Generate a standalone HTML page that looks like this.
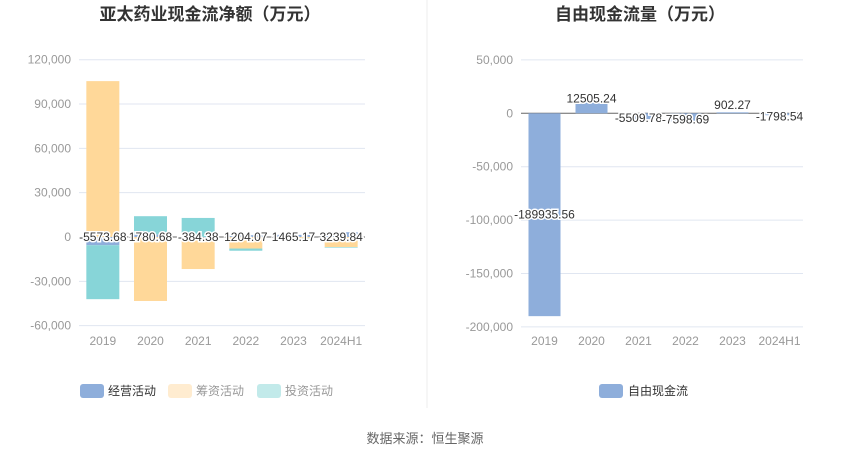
<!DOCTYPE html>
<html><head><meta charset="utf-8">
<style>
body{margin:0;background:#fff;font-family:"Liberation Sans","Noto Sans CJK SC",sans-serif;}
svg text{font-family:"Liberation Sans","Noto Sans CJK SC",sans-serif;}
</style></head>
<body>
<svg id="c" width="850" height="459" xmlns="http://www.w3.org/2000/svg">
<text x="210" y="20" text-anchor="middle" font-size="17" font-weight="bold" fill="#333">亚太药业现金流净额（万元）</text>
<text x="640" y="20" text-anchor="middle" font-size="17" font-weight="bold" fill="#333">自由现金流量（万元）</text>
<line x1="427" y1="0" x2="427" y2="408" stroke="#eee"/>
<g id="left"></g>
<g id="right"></g>
<g>
<rect x="80" y="384" width="24" height="14" rx="3" fill="#8eaedb"/>
<text x="108" y="395" font-size="12" fill="#333">经营活动</text>
<rect x="168" y="384" width="24" height="14" rx="3" fill="#ffecd0"/>
<text x="196" y="395" font-size="12" fill="#999">筹资活动</text>
<rect x="257" y="384" width="24" height="14" rx="3" fill="#c2eaea"/>
<text x="285" y="395" font-size="12" fill="#999">投资活动</text>
</g>
<g>
<rect x="599" y="384" width="24" height="14" rx="3" fill="#8eaedb"/>
<text x="628" y="395" font-size="12" fill="#333">自由现金流</text>
</g>
<text x="425" y="443" text-anchor="middle" font-size="13" fill="#666">数据来源：恒生聚源</text>
</svg>
<script>
const categories=["2019","2020","2021","2022","2023","2024H1"];
const operating=[-5573.68,1780.68,-384.38,1204.07,1465.17,3239.84];
const financing=[105500,-43300,-21300,-7800,-900,-6800];
const investing=[-36500,12300,12900,-1500,-300,-400];
const leftTicks=[120000,90000,60000,30000,0,-30000,-60000];
const fcf=[-189935.56,12505.24,-5509.78,-7598.69,902.27,-1798.54];
const rightTicks=[50000,0,-50000,-100000,-150000,-200000];
const NS="http://www.w3.org/2000/svg";
function mk(p,tag,at){const e=document.createElementNS(NS,tag);for(const k in at)e.setAttribute(k,at[k]);p.appendChild(e);return e;}
function fmt(v){return v.toLocaleString("en-US");}
function drawAxes(g,x0,x1,yOf,ticks,xc){
  ticks.forEach(t=>{const y=yOf(t);
    const l=mk(g,"line",{x1:x0,x2:x1,y1:y,y2:y,stroke:t===0?"#666":"#e0e6f1"});
    
    
    const tx=mk(g,"text",{x:x0-8,y:y+4,"text-anchor":"end","font-size":"12",fill:"#999"});tx.textContent=fmt(t);
    
    
  });
  categories.forEach((c,i)=>{const tx=mk(g,"text",{x:xc(i),y:345,"text-anchor":"middle","font-size":"12",fill:"#999"});tx.textContent=c;
    
    });
}
function label(g,x,y,txt){
  const t=mk(g,"text",{x:x,y:y+4,"text-anchor":"middle","font-size":"12",fill:"#333",stroke:"#fff","stroke-width":"3","paint-order":"stroke"});t.textContent=txt;
  
  
}
// left
(function(){
  const g=document.getElementById("left");
  const x0=79,x1=365,bw=33;
  const yOf=v=>237-v*(177.3/120000);
  const xc=i=>x0+(x1-x0)/6*(i+0.5);
  drawAxes(g,x0,x1,yOf,leftTicks,xc);
  const series=[[operating,"#8eaedb","bar-operating"],[financing,"#ffd899","bar-financing"],[investing,"#87d5d8","bar-investing"]];
  categories.forEach((c,i)=>{let pos=0,neg=0;
    series.forEach(([arr,col,nm])=>{const v=arr[i];let a,b;
      if(v>=0){a=pos;b=pos+v;pos=b;}else{a=neg;b=neg+v;neg=b;}
      const ya=yOf(a),yb=yOf(b);
      const r=mk(g,"rect",{x:xc(i)-bw/2,y:Math.min(ya,yb),width:bw,height:Math.abs(ya-yb),fill:col});
      
      
    });
    label(g,xc(i),yOf(0),String(operating[i].toFixed(2)));
  });
})();
// right
(function(){
  const g=document.getElementById("right");
  const x0=521,x1=803,bw=32;
  const yOf=v=>113.3-v*(53.4/50000);
  const xc=i=>x0+(x1-x0)/6*(i+0.5);
  drawAxes(g,x0,x1,yOf,rightTicks,xc);
  fcf.forEach((v,i)=>{const ya=yOf(0),yb=yOf(v);
    const r=mk(g,"rect",{x:xc(i)-bw/2,y:Math.min(ya,yb),width:bw,height:Math.max(1,Math.abs(ya-yb)),fill:"#8eaedb"});
    
    
    label(g,xc(i),yOf(v/2)-(Math.abs(v)<20000?(v>0?8:-2):0),v.toFixed(2));
  });
})();
</script>
</body></html>
